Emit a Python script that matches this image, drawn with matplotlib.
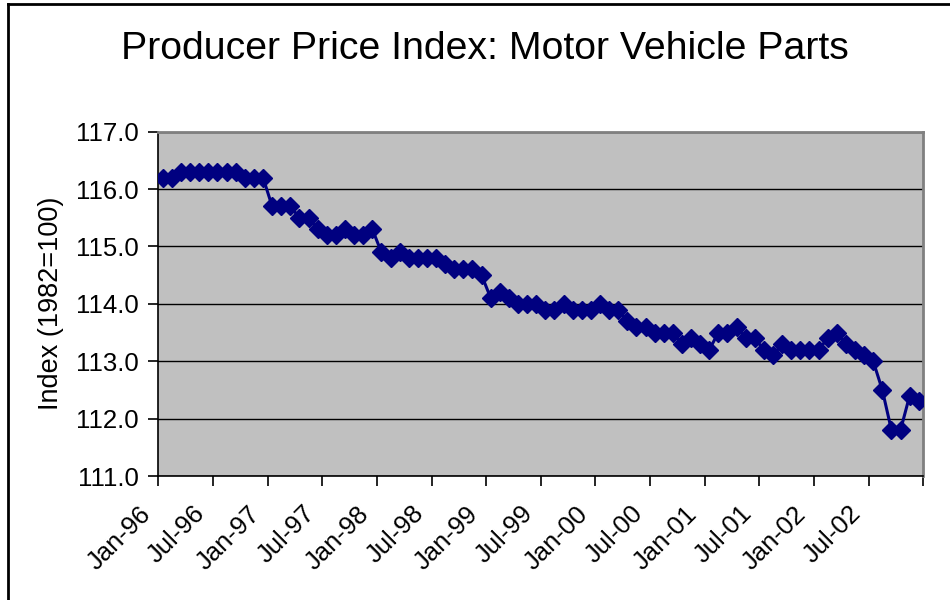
#
import numpy as np
import matplotlib
matplotlib.use( 'Agg' )
from matplotlib import pyplot as plt
from matplotlib import transforms
from matplotlib.lines import Line2D

plt.rcParams[ 'font.family' ] = [ 'Liberation Sans', 'DejaVu Sans' ]

# monthly index values (1982=100), Jan through Dec of each year
ppi1996 = [ 116.2, 116.2, 116.3, 116.3, 116.3, 116.3, 116.3, 116.3, 116.3, 116.2, 116.2, 116.2 ]
ppi1997 = [ 115.7, 115.7, 115.7, 115.5, 115.5, 115.3, 115.2, 115.2, 115.3, 115.2, 115.2, 115.3 ]
ppi1998 = [ 114.9, 114.8, 114.9, 114.8, 114.8, 114.8, 114.8, 114.7, 114.6, 114.6, 114.6, 114.5 ]
ppi1999 = [ 114.1, 114.2, 114.1, 114.0, 114.0, 114.0, 113.9, 113.9, 114.0, 113.9, 113.9, 113.9 ]
ppi2000 = [ 114.0, 113.9, 113.9, 113.7, 113.6, 113.6, 113.5, 113.5, 113.5, 113.3, 113.4, 113.3 ]
ppi2001 = [ 113.2, 113.5, 113.5, 113.6, 113.4, 113.4, 113.2, 113.1, 113.3, 113.2, 113.2, 113.2 ]
ppi2002 = [ 113.2, 113.4, 113.5, 113.3, 113.2, 113.1, 113.0, 112.5, 111.8, 111.8, 112.4, 112.3 ]

tickLabels = [ 'Jan-96', 'Jul-96', 'Jan-97', 'Jul-97', 'Jan-98', 'Jul-98', 'Jan-99',
               'Jul-99', 'Jan-00', 'Jul-00', 'Jan-01', 'Jul-01', 'Jan-02', 'Jul-02' ]
yTicks = [ 111.0, 112.0, 113.0, 114.0, 115.0, 116.0, 117.0 ]

values = np.concatenate( [ ppi1996, ppi1997, ppi1998, ppi1999, ppi2000, ppi2001, ppi2002 ] )
months = np.arange( values.size )

#
W, H = 950, 600
fig = plt.figure( figsize=( W / 100, H / 100 ), dpi=100 )
fig.patch.set_facecolor( 'white' )
ax = fig.add_axes( [ 158.3 / W, 1 - 476 / H, 765 / W, ( 476 - 131.7 ) / H ] )
ax.set_facecolor( '#C0C0C0' )

ax.plot( months, values, '-', color='#000080', lw=2.2, marker='D', markersize=9.5,
         markerfacecolor='#000080', markeredgecolor='#000080', zorder=3 )

#
ax.set_xlim( -0.5, values.size - 0.5 )
ax.set_ylim( yTicks[ 0 ], yTicks[ -1 ] )
ax.set_yticks( yTicks )
ax.set_yticklabels( [ f"{t:.1f}" for t in yTicks ] )
ax.grid( axis='y', color='black', lw=1.0 )
ax.set_axisbelow( True )

# tick marks between categories, labels on the category itself
ax.set_xticks( np.arange( -0.5, values.size, 6 ) )
ax.set_xticklabels( [] )
ax.set_xticks( months[ ::6 ], tickLabels, minor=True )
ax.tick_params( axis='x', which='major', length=7, width=1.2, color='black', direction='out' )
ax.tick_params( axis='x', which='minor', length=0, pad=0, labelsize=18.5 )
ax.tick_params( axis='y', length=7, width=1.2, color='black', labelsize=18.5, pad=7 )

# anchor the end of each rotated label's baseline just below-left of its month
offset = transforms.ScaledTranslation( -11 / 100, -39 / 100, fig.dpi_scale_trans )
for lab in ax.get_xticklabels( minor=True ):
    lab.set_rotation( 45 )
    lab.set_ha( 'right' )
    lab.set_va( 'baseline' )
    lab.set_rotation_mode( 'anchor' )
    lab.set_transform( lab.get_transform() + offset )

for side in [ 'top', 'right' ]:
    ax.spines[ side ].set_color( '#808080' )
    ax.spines[ side ].set_linewidth( 2 )
for side in [ 'left', 'bottom' ]:
    ax.spines[ side ].set_color( 'black' )
    ax.spines[ side ].set_linewidth( 1.2 )

#
fig.text( 485 / W, 1 - 59 / H, 'Producer Price Index: Motor Vehicle Parts',
          ha='center', va='baseline', fontsize=28.3 )
fig.text( 51 / W, 1 - 303 / H, 'Index (1982=100)', rotation=90,
          ha='center', va='center', fontsize=19.5 )

# chart border (only left and top edges are inside the picture)
fig.add_artist( Line2D( [ 8 / W, 8 / W ], [ 0, 1 - 4 / H ], color='black', lw=2 ) )
fig.add_artist( Line2D( [ 8 / W, 1 ], [ 1 - 4 / H, 1 - 4 / H ], color='black', lw=2 ) )

fig.savefig( 'out.png', dpi=100 )
